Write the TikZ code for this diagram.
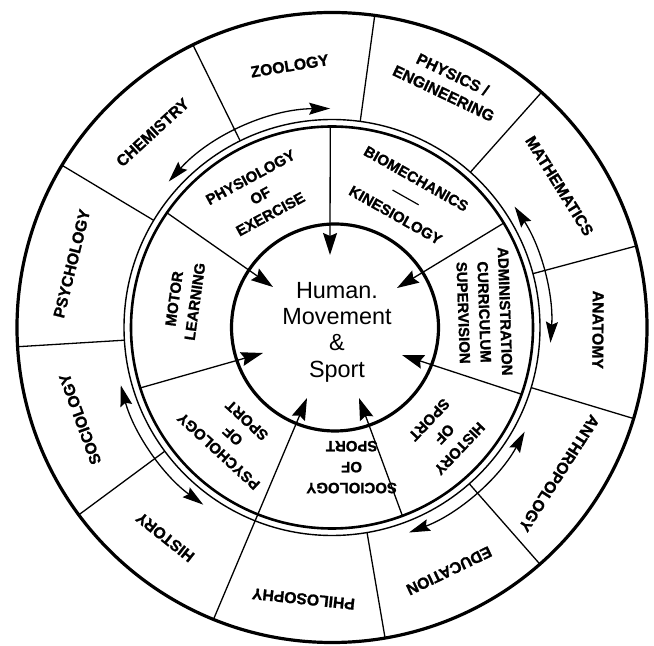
\documentclass[tikz,border=0pt]{standalone}
\usepackage{fontspec}
\setmainfont{Liberation Sans}
\newfontfamily\heavy{Liberation Sans}[UprightFont=* Bold, FakeBold=1.2]
\usetikzlibrary{arrows.meta}
\begin{document}
\begin{tikzpicture}[x=1bp,y=1bp,
  rim/.style={line width=3.2bp},
  ringin/.style={line width=2.6bp},
  ringout/.style={line width=1.4bp},
  divider/.style={line width=1.3bp},
  feed/.style={line width=1.3bp,-{Stealth[length=22bp,width=14bp,inset=3bp]}},
  flow/.style={line width=1.3bp,{Stealth[length=21bp,width=12bp,inset=3bp]}-{Stealth[length=21bp,width=12bp,inset=3bp]}},
  subject/.style={font=\heavy\fontsize{15}{21}\selectfont,align=center,inner sep=0pt},
  parent/.style={subject,font=\heavy\fontsize{15.8}{21}\selectfont},
  core/.style={font=\fontsize{23.5}{26.5}\selectfont,align=center,inner sep=0pt}
]
\useasboundingbox (-332,-318.5) rectangle (322,327.5);
\fill[white] (-332,-318.5) rectangle (322,327.5);

% rings of the wheel
\draw[rim] (0,0) circle[radius=315];
\draw[ringout] (0,0) circle[radius=208];
\draw[ringin] (0,0) circle[radius=201];
\draw[rim] (3,0) circle[radius=103.5];

% spokes between the parent disciplines
\foreach \a in {116.2,82.2,48.3,15,-16.8,-48.7,-80.3,-143.5,-176.5,149}
  \draw[divider] (\a:208) -- (\a:315);

% parent disciplines (outer ring)
\node[parent,rotate=9.2]    (zoo)  at (99.2:265)  {ZOOLOGY};
\node[parent,rotate=-25.5]  (phy)  at (64.5:270)  {PHYSICS /\\ENGINEERING};
\node[parent,rotate=-58.1]  (mat)  at (31.9:268)  {MATHEMATICS};
\node[parent,rotate=-90.5]  (ana)  at (-0.5:266)  {ANATOMY};
\node[parent,rotate=-122.7] (ant)  at (-32.7:270) {ANTHROPOLOGY};
\node[parent,rotate=-154.3] (edu)  at (-64.3:270) {EDUCATION};
\node[parent,rotate=-186]   (phi)  at (-96:273)   {PHILOSOPHY};
\node[parent,rotate=-218.5] (his)  at (-128.5:268){HISTORY};
\node[parent,rotate=-250]   (soc)  at (-160:268)  {SOCIOLOGY};
\node[parent,rotate=76.2]   (psy)  at (166.2:268) {PSYCHOLOGY};
\node[parent,rotate=42.6]   (che)  at (132.6:265) {CHEMISTRY};

% sub-disciplines (middle ring)
\node[subject,rotate=28.5]   (pex)  at (118.5:150) {PHYSIOLOGY\\OF\\EXERCISE};
\node[subject,rotate=-29.5]  (bio)  at (60.5:150)  {BIOMECHANICS\\\rule[4bp]{30bp}{1.2bp}\\KINESIOLOGY};
\node[subject,rotate=-88]    (adm)  at (5.8:153)   {ADMINISTRATION\\CURRICULUM\\SUPERVISION};
\node[subject,rotate=-133.5] (hsp)  at (-43.5:155) {HISTORY\\OF\\SPORT};
\node[subject,rotate=180]    (ssp)  at (-82:141)   {SOCIOLOGY\\OF\\SPORT};
\node[subject,rotate=137.5]  (psp)  at (-132.5:147){PSYCHOLOGY\\OF\\SPORT};
\node[subject,rotate=82]     (mot)  at (169.5:150) {MOTOR\\LEARNING};

% hub
\node[core] (hub) at (5,-4.5) {Human.\\Movement\\\&\\Sport};

% spokes of the middle ring, feeding the hub
\draw[feed] (145.2:201) -- (-59,40.5);
\draw[feed] (90.5:201)  -- (-2,72.5);
\draw[feed] (31.3:201)  -- (65,39.5);
\draw[feed] (-19.4:201) -- (70,-27.5);
\draw[feed] (-69.5:201) -- (27,-70.5);
\draw[feed] (-112.1:315) -- (-25,-70.5);
\draw[feed] (-162.5:201) -- (-69,-25.5);

% two-way links along the ring
\draw[flow] (138.2:219) arc[start angle=138.2, end angle=90.5, radius=219];
\draw[flow] (33.5:219)  arc[start angle=33.5,  end angle=-4,   radius=219];
\draw[flow] (-28.4:219) arc[start angle=-28.4, end angle=-69.4, radius=219];
\draw[flow] (195.3:219) arc[start angle=195.3, end angle=234,   radius=219];
\end{tikzpicture}
\end{document}
